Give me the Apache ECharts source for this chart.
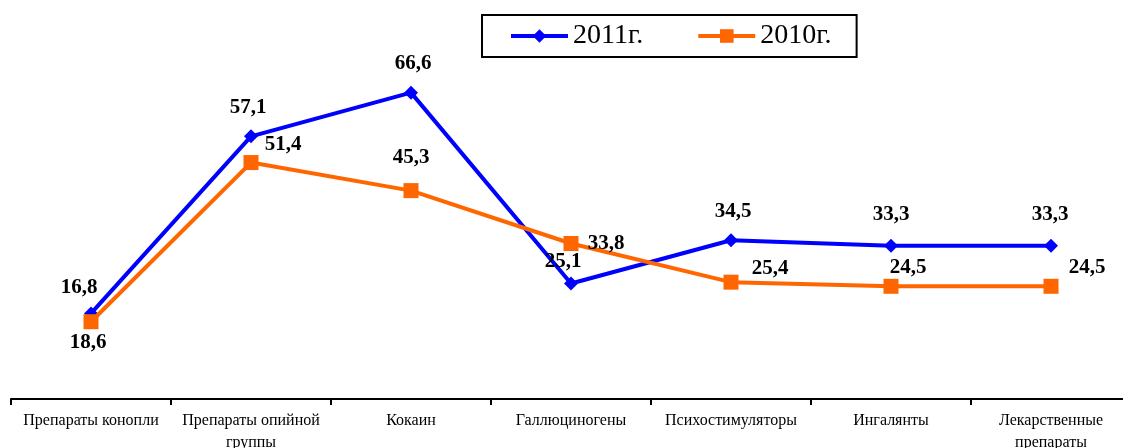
<!DOCTYPE html>
<html><head><meta charset="utf-8">
<script src="https://cdn.jsdelivr.net/npm/echarts@6/dist/echarts.min.js"></script>
<style>html,body{margin:0;padding:0;background:#fff}#c{width:1123px;height:448px}</style>
</head><body><div id="c"></div>
<script>
const categories = ["Препараты конопли","Препараты опийной группы","Кокаин","Галлюциногены","Психостимуляторы","Ингалянты","Лекарственные препараты"];
const s2011 = [18.6, 57.1, 66.6, 25.1, 34.5, 33.3, 33.3];
const s2010 = [16.8, 51.4, 45.3, 33.8, 25.4, 24.5, 24.5];
const seriesNames = ["2011г.", "2010г."];

const off2011 = [[-3,29],[-3,-29],[2,-29],[-8,-22],[2,-29],[0,-31],[-1,-31]];
const off2010 = [[-12,-34],[32,-18],[0,-33],[35,0],[39,-14],[17,-19],[36,-19]];
const fmt = v => String(v).replace('.', ',');
function mk(vals, offs){
  return vals.map((v,i)=>({value:v,label:{offset:offs[i]}}));
}
const font = "'Liberation Serif','Times New Roman',serif";
const chart = echarts.init(document.getElementById('c'));
const lbl = {show:true,position:'inside',formatter:p=>fmt(p.value),fontFamily:font,fontWeight:'bold',fontSize:21,color:'#000'};
chart.setOption({
  animation:false,
  grid:{left:11,width:1120,top:31,bottom:49,outerBoundsMode:'none',containLabel:false},
  legend:{
    top:15,left:482,
    itemWidth:57,itemHeight:17,itemGap:53,
    padding:[7,25,7,27],
    borderColor:'#000',borderWidth:2,
    lineStyle:{width:4},
    textStyle:{fontFamily:font,fontSize:28,color:'#000'},
    data:seriesNames
  },
  xAxis:{type:'category',data:categories,boundaryGap:true,
    axisLine:{lineStyle:{color:'#000',width:2}},
    axisTick:{show:true,length:6,lineStyle:{color:'#000',width:2}},
    axisLabel:{interval:0,margin:11,color:'#000',fontFamily:font,fontSize:16,lineHeight:22,
      formatter:s=> s.length>18 ? s.replace(/ (?=[^ ]*$)/,'\n') : s}
  },
  yAxis:{type:'value',min:0,max:80,show:false,splitLine:{show:false}},
  series:[
    {name:seriesNames[0],type:'line',data:mk(s2011,off2011),color:'#0000FF',
     lineStyle:{width:4,color:'#0000FF'},symbol:'diamond',symbolSize:14,
     itemStyle:{color:'#0000FF'},z:3,label:lbl},
    {name:seriesNames[1],type:'line',data:mk(s2010,off2010),color:'#FF6600',
     lineStyle:{width:4,color:'#FF6600'},symbol:'rect',symbolSize:15,
     itemStyle:{color:'#FF6600'},z:4,label:lbl}
  ]
});
</script></body></html>
